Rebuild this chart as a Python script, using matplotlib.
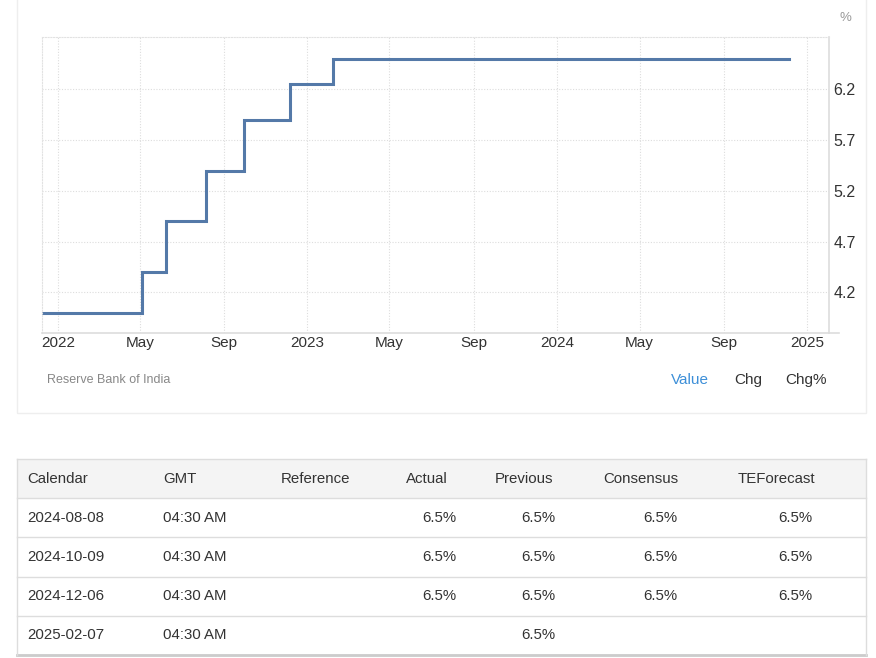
import numpy as np
import pandas as pd
import matplotlib
matplotlib.use('Agg')
import matplotlib.pyplot as plt
import matplotlib.dates as mdates
from matplotlib.patches import Rectangle

plt.rcParams['font.family'] = ['Liberation Sans', 'DejaVu Sans']

# RBI policy repo rate, by meeting date
dates = ['2021-12-08', '2022-02-10', '2022-04-08', '2022-05-04', '2022-06-08',
         '2022-08-05', '2022-09-30', '2022-12-07', '2023-02-08', '2023-04-06',
         '2023-06-08', '2023-08-10', '2023-10-06', '2023-12-08', '2024-02-08',
         '2024-04-05', '2024-06-07', '2024-08-08', '2024-10-09', '2024-12-06']
rates = [4.0, 4.0, 4.0, 4.4, 4.9, 5.4, 5.9, 6.25, 6.5, 6.5,
         6.5, 6.5, 6.5, 6.5, 6.5, 6.5, 6.5, 6.5, 6.5, 6.5]

y_ticks = [4.2, 4.7, 5.2, 5.7, 6.2]
source = 'Reserve Bank of India'
tabs = ['Value', 'Chg', 'Chg%']

# calendar table
headers = ['Calendar', 'GMT', 'Reference', 'Actual', 'Previous', 'Consensus', 'TEForecast']
cal_dates = ['2024-08-08', '2024-10-09', '2024-12-06', '2025-02-07']
gmt = ['04:30 AM', '04:30 AM', '04:30 AM', '04:30 AM']
reference = ['', '', '', '']
actual = ['6.5%', '6.5%', '6.5%', '']
previous = ['6.5%', '6.5%', '6.5%', '6.5%']
consensus = ['6.5%', '6.5%', '6.5%', '']
teforecast = ['6.5%', '6.5%', '6.5%', '']

W, H = 876, 658
fig = plt.figure(figsize=(W / 100, H / 100), dpi=100)
fig.patch.set_facecolor('white')

# background layer in pixel coordinates (card, table)
bg = fig.add_axes([0, 0, 1, 1])
bg.set_xlim(0, W)
bg.set_ylim(H, 0)
bg.axis('off')
bg.add_patch(Rectangle((16.5, -2), 849, 415, fill=False, edgecolor='#eeeeee', linewidth=1))

# chart
ax_l, ax_r, ax_t, ax_b = 41.5, 829, 37, 333
ax = fig.add_axes([ax_l / W, 1 - ax_b / H, (ax_r - ax_l) / W, (ax_b - ax_t) / H])
ax.set_facecolor('none')
x = pd.to_datetime(dates)
ax.step(x, rates, where='post', color='#5479a8', linewidth=2.2, solid_joinstyle='miter')
ax.set_xlim(pd.Timestamp('2021-12-08'), pd.Timestamp('2025-02-02'))
ax.set_ylim(3.8, 6.715)

ax.xaxis.set_major_locator(mdates.MonthLocator(bymonth=[1, 5, 9]))

def fmt_date(v, pos):
    d = mdates.num2date(v)
    return str(d.year) if d.month == 1 else d.strftime('%b')

ax.xaxis.set_major_formatter(plt.FuncFormatter(fmt_date))
ax.set_yticks(y_ticks)
ax.set_yticklabels([f'{t:.1f}' for t in y_ticks])
ax.yaxis.tick_right()
ax.tick_params(axis='both', length=0, labelsize=11, labelcolor='#333333')
ax.tick_params(axis='y', labelsize=11.5)
ax.tick_params(axis='x', pad=2.5)
ax.tick_params(axis='y', pad=3)
for lab in ax.get_yticklabels():
    lab.set_y(lab.get_position()[1])
ax.grid(True, color='#dddddd', linestyle=(0, (1, 1.5)), linewidth=0.8)
for side in ['top', 'left']:
    ax.spines[side].set_color('#e2e2e2')
    ax.spines[side].set_linestyle((0, (1, 1.5)))
    ax.spines[side].set_linewidth(0.8)
ax.spines['right'].set_color('#dddddd')
ax.spines['bottom'].set_color('#dddddd')
ax.spines['right'].set_linewidth(1.2)
ax.spines['bottom'].set_linewidth(1.2)
bg.plot([ax_r, 839], [ax_b, ax_b], color='#dddddd', linewidth=1.2)

bg.text(845, 18, '%', fontsize=9.5, color='#999999', ha='center', va='center')
bg.text(47, 380, source, fontsize=9, color='#888888', ha='left', va='center')
tab_x = [671, 734, 785]
tab_c = ['#3d8fd8', '#333333', '#333333']
for t, tx, tc in zip(tabs, tab_x, tab_c):
    bg.text(tx, 380, t, fontsize=11, color=tc, ha='left', va='center')

# table
t_left, t_right, t_top, row_h = 16.5, 865.5, 459, 39.2
n_rows = len(cal_dates)
bg.add_patch(Rectangle((t_left, t_top), t_right - t_left, row_h, facecolor='#f4f4f4',
                       edgecolor='none'))
for i in range(n_rows + 1):
    yy = t_top + row_h * (i + 1)
    bg.plot([t_left, t_right], [yy, yy], color='#dddddd', linewidth=1)
bg.plot([t_left, t_right], [t_top, t_top], color='#dddddd', linewidth=1)
bg.plot([t_left, t_right], [t_top + row_h * (n_rows + 1)] * 2, color='#cccccc', linewidth=2)
bg.plot([t_left, t_left], [t_top, t_top + row_h * (n_rows + 1)], color='#dddddd', linewidth=1)
bg.plot([t_right, t_right], [t_top, t_top + row_h * (n_rows + 1)], color='#dddddd', linewidth=1)

head_x = [27, 163, 281, 448, 553, 678, 815]
head_ha = ['left', 'left', 'left', 'right', 'right', 'right', 'right']
for h, hx, ha in zip(headers, head_x, head_ha):
    bg.text(hx, t_top + row_h / 2, h, fontsize=10.8, color='#333333', ha=ha, va='center')

cols = [cal_dates, gmt, reference, actual, previous, consensus, teforecast]
col_x = [27, 163, 281, 456, 555, 677, 812]
for col, cx, ha in zip(cols, col_x, head_ha):
    for r, val in enumerate(col):
        bg.text(cx, t_top + row_h * (r + 1.5), val, fontsize=10.8, color='#333333',
                ha=ha, va='center')

fig.savefig('out.png', dpi=100, facecolor='white')
